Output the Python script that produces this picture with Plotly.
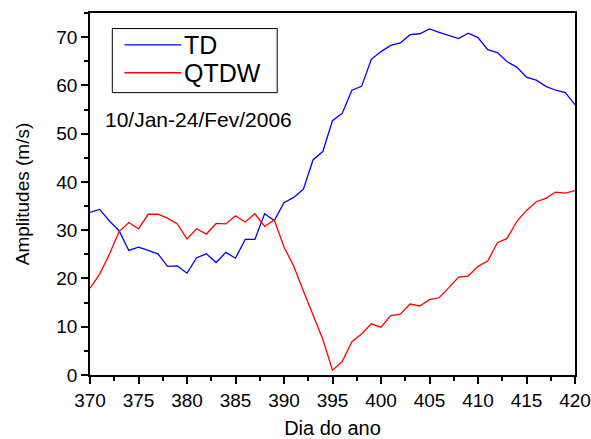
import plotly.graph_objects as go

days = list(range(370, 421))

td = [33.7, 34.3, 31.9, 29.9, 25.8, 26.5, 25.8, 25.1, 22.5, 22.6,
      21.1, 24.3, 25.1, 23.3, 25.4, 24.2, 28.1, 28.1, 33.4, 32.0,
      35.7, 36.8, 38.5, 44.6, 46.3, 52.7, 54.2, 59.0, 59.8, 65.4,
      67.0, 68.3, 68.8, 70.5, 70.7, 71.7, 71.0, 70.3, 69.7, 70.8,
      69.9, 67.4, 66.8, 64.9, 63.8, 61.7, 61.1, 59.8, 59.0, 58.5,
      56.0]

qtdw = [18.0, 20.9, 25.0, 29.7, 31.6, 30.3, 33.3, 33.3, 32.5, 31.3,
        28.2, 30.3, 29.2, 31.4, 31.3, 33.0, 31.7, 33.4, 30.8, 32.1,
        26.5, 22.6, 17.4, 12.2, 7.4, 1.0, 2.8, 6.9, 8.5, 10.6,
        9.9, 12.3, 12.6, 14.7, 14.3, 15.6, 16.0, 18.1, 20.3, 20.5,
        22.5, 23.6, 27.4, 28.3, 31.8, 34.1, 35.9, 36.6, 37.9, 37.7,
        38.2]

x_ticks = [370, 375, 380, 385, 390, 395, 400, 405, 410, 415, 420]
y_ticks = [0, 10, 20, 30, 40, 50, 60, 70]

series_names = ["TD", "QTDW"]
series_colors = ["#0000ff", "#ff0000"]

FONT = "Liberation Sans, Arial, sans-serif"

fig = go.Figure()
for name, vals, col in zip(series_names, [td, qtdw], series_colors):
    fig.add_trace(go.Scatter(x=days, y=vals, mode="lines", name=name,
                             line=dict(color=col, width=1.3), showlegend=False))

axis_common = dict(showgrid=False, zeroline=False, showline=True,
                   linecolor="black", linewidth=1.5, mirror=True,
                   ticks="outside", ticklen=7, tickwidth=1.5, tickcolor="black",
                   automargin=False,
                   tickfont=dict(family=FONT, size=19, color="black"))

fig.update_xaxes(range=[370, 420], tickvals=x_ticks,
                 minor=dict(dtick=2.5, tick0=370, ticks="outside", ticklen=4,
                            tickwidth=1.5, tickcolor="black"),
                 title=dict(text="Dia do ano", font=dict(family=FONT, size=20, color="black"),
                            standoff=11),
                 **axis_common)
fig.update_yaxes(range=[0, 75], tickvals=y_ticks,
                 minor=dict(dtick=5, tick0=0, ticks="outside", ticklen=4,
                            tickwidth=1.5, tickcolor="black"),
                 title=dict(text="Amplitudes (m/s)", font=dict(family=FONT, size=19, color="black"),
                            standoff=22),
                 **axis_common)

# period annotation
fig.add_annotation(text="10/Jan-24/Fev/2006", xref="paper", yref="paper",
                   x=0.026, y=0.705, xanchor="left", yanchor="middle", showarrow=False,
                   font=dict(family=FONT, size=21, color="black"))

# legend box (drawn manually to match the original legend layout)
fig.add_shape(type="rect", xref="paper", yref="paper",
              x0=0.046, x1=0.386, y0=0.78, y1=0.957,
              line=dict(color="black", width=1), fillcolor="white", layer="above")
leg_y = [0.912, 0.835]
for name, col, yy in zip(series_names, series_colors, leg_y):
    fig.add_shape(type="line", xref="paper", yref="paper",
                  x0=0.071, x1=0.188, y0=yy, y1=yy,
                  line=dict(color=col, width=1.3), layer="above")
    fig.add_annotation(text=name, xref="paper", yref="paper",
                       x=0.19, y=yy, xanchor="left", yanchor="middle", showarrow=False,
                       font=dict(family=FONT, size=25, color="black"))

fig.update_layout(
    width=591, height=439,
    margin=dict(l=89.5, r=15.5, t=13.3, b=64),
    paper_bgcolor="white", plot_bgcolor="white",
    showlegend=False,
)

fig.write_html("out.html")
